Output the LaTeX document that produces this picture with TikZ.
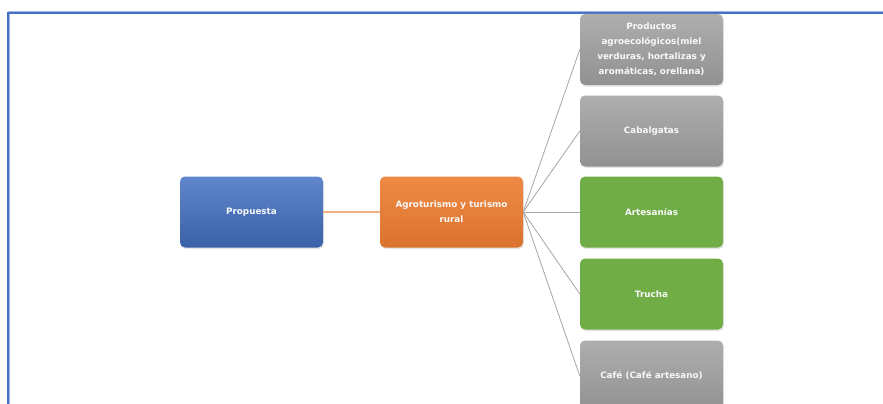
\documentclass[tikz,border=0pt]{standalone}
\usepackage{fontspec}
\setmainfont{DejaVu Sans}
\usetikzlibrary{shadows}
\definecolor{frameblue}{HTML}{4472C4}
\definecolor{framelight}{HTML}{9DB5E0}
\definecolor{boxblue}{HTML}{4472C4}
\definecolor{boxorange}{HTML}{ED7D31}
\definecolor{boxgreen}{HTML}{70AD47}
\definecolor{boxgray}{HTML}{A5A5A5}
\begin{document}
\begin{tikzpicture}[x=1pt, y=-1pt,
    box/.style={rounded corners=5pt, minimum width=143pt, minimum height=71pt, inner sep=2pt,
      align=center, text=white!95!gray, font=\fontsize{8.8}{15}\selectfont\bfseries,
      drop shadow={opacity=0.2, shadow xshift=1pt, shadow yshift=-1.5pt}},
    bluebox/.style={box, top color=boxblue!85!white, bottom color=boxblue!85!black},
    orangebox/.style={box, top color=boxorange!90!white, bottom color=boxorange!92!black},
    greenbox/.style={box, fill=boxgreen},
    graybox/.style={box, top color=boxgray!90!white, bottom color=boxgray!88!black},
    link/.style={gray!70, line width=0.8pt}]
  \useasboundingbox[fill=white] (0, 0) rectangle (883, 404);

  \draw [framelight, line width=3pt] (8, 13) -- (883, 13);
  \draw [framelight, line width=3pt] (8, 13) -- (8, 404);
  \draw [frameblue, line width=1.4pt] (8, 404) -- (8, 13) -- (883, 13);

  \node [bluebox] (prop) at (251.5, 212) {Propuesta};
  \node [orangebox] (agro) at (451.5, 212) {Agroturismo y turismo\\rural};

  \node [graybox] (prod) at (651.5, 49.5) {Productos\\agroecológicos(miel\\verduras, hortalizas y\\aromáticas, orellana)};
  \node [graybox] (cab) at (651.5, 131) {Cabalgatas};
  \node [greenbox] (art) at (651.5, 212) {Artesanías};
  \node [greenbox] (tru) at (651.5, 294) {Trucha};
  \node [graybox] (cafe) at (651.5, 376) {Café (Café artesano)};

  \draw [boxorange!60!white, line width=1.2pt] (prop) -- (agro);
  \foreach \b in {prod, cab, art, tru, cafe}
    \draw [link] (agro.east) -- (\b.west);
\end{tikzpicture}
\end{document}
